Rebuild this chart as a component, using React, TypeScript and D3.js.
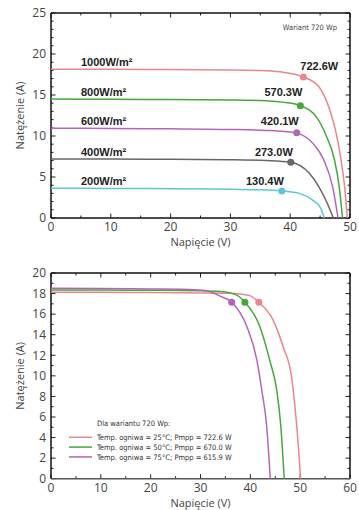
import React from "react";
import * as d3 from "d3";

type Pt = [number, number]; // [voltage V, current A]

// ---- top chart: I-V curves per irradiance (720 Wp variant) ----
const irradianceLabels = ["1000W/m²", "800W/m²", "600W/m²", "400W/m²", "200W/m²"];
const powerLabels = ["722.6W", "570.3W", "420.1W", "273.0W", "130.4W"];
const irradianceColors = ["#e8878d", "#46a83b", "#b565b9", "#676767", "#5cc6d7"];

const curve1000: Pt[] = [
  [0, 18.15], [10, 18.13], [20, 18.1], [30, 18.05], [36, 17.95], [39, 17.75],
  [42.2, 17.2], [44.8, 16.0], [46.6, 13.2], [47.7, 10.3], [48.5, 7.1],
  [49.1, 3.8], [49.55, 0],
];
const curve800: Pt[] = [
  [0, 14.5], [10, 14.48], [20, 14.45], [30, 14.4], [36, 14.3], [39, 14.1],
  [41.7, 13.7], [44.4, 12.3], [46.1, 9.9], [47.4, 7.1], [48.2, 3.8], [48.75, 0],
];
const curve600: Pt[] = [
  [0, 10.94], [10, 10.92], [20, 10.88], [30, 10.8], [36, 10.68], [39, 10.55],
  [41.1, 10.35], [43.8, 9.1], [45.6, 7.1], [47.1, 3.8], [48.0, 0],
];
const curve400: Pt[] = [
  [0, 7.2], [10, 7.19], [20, 7.15], [30, 7.1], [36, 7.0], [40.1, 6.8],
  [43.2, 5.45], [44.8, 3.8], [46.2, 1.8], [47.2, 0],
];
const curve200: Pt[] = [
  [0, 3.62], [10, 3.61], [20, 3.58], [30, 3.5], [35, 3.45], [38.6, 3.3],
  [41.5, 3.0], [43.7, 2.2], [45.1, 1.2], [45.7, 0],
];
const irradianceCurves = [curve1000, curve800, curve600, curve400, curve200];
const irradianceMppV = [42.2, 41.7, 41.1, 40.1, 38.6];
const irradianceMppI = [17.2, 13.7, 10.4, 6.8, 3.3];

// ---- bottom chart: I-V curves per cell temperature ----
const tempLabels = [
  "Temp. ogniwa = 25°C; Pmpp = 722.6 W",
  "Temp. ogniwa = 50°C; Pmpp = 670.0 W",
  "Temp. ogniwa = 75°C; Pmpp = 615.9 W",
];
const tempColors = ["#e8878d", "#46a83b", "#b565b9"];
const curve25: Pt[] = [
  [0, 18.13], [10, 18.12], [20, 18.1], [30, 18.06], [36, 18.02], [38, 17.96],
  [39.9, 17.8], [41.7, 17.16], [44.6, 15.4], [46.6, 12.8], [48.3, 9.8],
  [49.3, 5.2], [50.1, 0],
];
const curve50: Pt[] = [
  [0, 18.35], [10, 18.34], [20, 18.32], [30, 18.28], [34, 18.2], [37.3, 17.85],
  [38.9, 17.16], [41.9, 14.8], [43.9, 11.5], [45.3, 8.6], [46.1, 5.2], [46.8, 0],
];
const curve75: Pt[] = [
  [0, 18.52], [10, 18.5], [20, 18.45], [28, 18.4], [31, 18.3], [33.9, 17.75],
  [36.26, 17.16], [39.3, 14.8], [41.3, 11.55], [42.3, 8.6], [43.3, 5.0], [44.0, 0],
];
const tempCurves = [curve25, curve50, curve75];
const tempMppV = [41.7, 38.9, 36.26];
const tempMppI = [17.16, 17.16, 17.16];

// ---- ticks ----
const topXTicks = [0, 10, 20, 30, 40, 50];
const topYTicks = [0, 5, 10, 15, 20, 25];
const bottomXTicks = [0, 10, 20, 30, 40, 50, 60];
const bottomYTicks = [0, 2, 4, 6, 8, 10, 12, 14, 16, 18, 20];

const W = 359;
const H = 510;
const tickFont = "'Open Sans', 'DejaVu Sans', sans-serif";
const condFont = "'DejaVu Sans Condensed', 'DejaVu Sans', sans-serif";

interface Box {
  left: number;
  right: number;
  top: number;
  bottom: number;
}

interface FrameProps {
  box: Box;
  x: d3.ScaleLinear<number, number>;
  y: d3.ScaleLinear<number, number>;
  xTicks: number[];
  yTicks: number[];
  xMinor: number[];
  yMinor: number[];
  xAxisColor: string;
}

// box with inward ticks on all four sides, labels on left and bottom
const Frame = ({ box, x, y, xTicks, yTicks, xMinor, yMinor, xAxisColor }: FrameProps) => {
  const major = 4.5;
  const minor = 2.5;
  return (
    <g>
      {xMinor.map((v) => (
        <g key={"xm" + v} stroke="#222" strokeWidth={1}>
          <line x1={x(v)} x2={x(v)} y1={box.bottom} y2={box.bottom - minor} />
          <line x1={x(v)} x2={x(v)} y1={box.top} y2={box.top + minor} />
        </g>
      ))}
      {xTicks.map((v) => (
        <g key={"x" + v}>
          <line x1={x(v)} x2={x(v)} y1={box.bottom} y2={box.bottom - major} stroke="#222" />
          <line x1={x(v)} x2={x(v)} y1={box.top} y2={box.top + major} stroke="#222" />
          <text x={x(v)} y={box.bottom + 13} textAnchor="middle" fontFamily={tickFont}
            fontSize={12} fill="#444">{v}</text>
        </g>
      ))}
      {yMinor.map((v) => (
        <g key={"ym" + v} stroke="#222" strokeWidth={1}>
          <line x1={box.left} x2={box.left + minor} y1={y(v)} y2={y(v)} />
          <line x1={box.right} x2={box.right - minor} y1={y(v)} y2={y(v)} />
        </g>
      ))}
      {yTicks.map((v) => (
        <g key={"y" + v}>
          <line x1={box.left} x2={box.left + major} y1={y(v)} y2={y(v)} stroke="#222" />
          <line x1={box.right} x2={box.right - major} y1={y(v)} y2={y(v)} stroke="#222" />
          <text x={box.left - 5} y={y(v)} dy="0.36em" textAnchor="end" fontFamily={tickFont}
            fontSize={12} fill="#444">{v}</text>
        </g>
      ))}
      <line x1={box.left} x2={box.right} y1={box.top} y2={box.top} stroke="#111" strokeWidth={1.5} />
      <line x1={box.left} x2={box.left} y1={box.top} y2={box.bottom} stroke="#111" strokeWidth={1.5} />
      <line x1={box.right} x2={box.right} y1={box.top} y2={box.bottom} stroke="#111" strokeWidth={1.5} />
      <line x1={box.left} x2={box.right} y1={box.bottom} y2={box.bottom} stroke={xAxisColor} strokeWidth={1.5} />
      <text x={(box.left + box.right) / 2} y={box.bottom + 28} textAnchor="middle"
        fontFamily={tickFont} fontSize={11} fill="#444">Napięcie (V)</text>
      <text transform={`translate(24,${(box.top + box.bottom) / 2}) rotate(-90)`} textAnchor="middle"
        fontFamily={tickFont} fontSize={11} fill="#444">Natężenie (A)</text>
    </g>
  );
};

const App = () => {
  const topBox: Box = { left: 51, right: 350, top: 13, bottom: 218 };
  const botBox: Box = { left: 51, right: 350, top: 273, bottom: 478.7 };

  const xTop = d3.scaleLinear().domain([0, 50]).range([topBox.left, topBox.right]);
  const yTop = d3.scaleLinear().domain([0, 25]).range([topBox.bottom, topBox.top]);
  const xBot = d3.scaleLinear().domain([0, 60]).range([botBox.left, botBox.right]);
  const yBot = d3.scaleLinear().domain([0, 20]).range([botBox.bottom, botBox.top]);

  const lineTop = d3.line<Pt>().x((d) => xTop(d[0])).y((d) => yTop(d[1])).curve(d3.curveMonotoneX);
  const lineBot = d3.line<Pt>().x((d) => xBot(d[0])).y((d) => yBot(d[1])).curve(d3.curveMonotoneX);

  return (
    <svg width={W} height={H} style={{ position: "absolute", left: 0, top: 0, background: "#fff" }}>
      {/* top chart */}
      <Frame box={topBox} x={xTop} y={yTop} xTicks={topXTicks} yTicks={topYTicks}
        xMinor={d3.range(5, 50, 10)} yMinor={d3.range(1, 25).filter((v) => v % 5 !== 0)}
        xAxisColor="#111" />
      {irradianceCurves.map((c, i) => (
        <path key={"ic" + i} d={lineTop(c) || ""} fill="none" stroke={irradianceColors[i]} strokeWidth={1.5} />
      ))}
      {irradianceCurves.map((c, i) => (
        <g key={"il" + i}>
          <circle cx={xTop(irradianceMppV[i])} cy={yTop(irradianceMppI[i])} r={3.5} fill={irradianceColors[i]} />
          <text x={81} y={yTop(c[0][1]) - 3} fontFamily="'Liberation Sans', Arial, sans-serif"
            fontWeight="bold" fontSize={11} fill="#222">{irradianceLabels[i]}</text>
          <text
            x={xTop(irradianceMppV[i]) + (i === 0 ? -3 : 2)}
            y={yTop(c[0][1]) - 3 + (i === 0 ? 4 : 0)}
            textAnchor={i === 0 ? "start" : "end"}
            fontFamily="'Liberation Sans', Arial, sans-serif" fontWeight="bold" fontSize={11} fill="#222"
          >{powerLabels[i]}</text>
        </g>
      ))}
      <text x={337} y={30} textAnchor="end" fontFamily={condFont} fontSize={7.5} fill="#444">Wariant 720 Wp</text>

      {/* bottom chart */}
      <Frame box={botBox} x={xBot} y={yBot} xTicks={bottomXTicks} yTicks={bottomYTicks}
        xMinor={d3.range(5, 60, 10)} yMinor={d3.range(1, 20, 2)} xAxisColor="#555" />
      {tempCurves.map((c, i) => (
        <path key={"tc" + i} d={lineBot(c) || ""} fill="none" stroke={tempColors[i]} strokeWidth={1.5} />
      ))}
      {tempCurves.map((c, i) => (
        <circle key={"tm" + i} cx={xBot(tempMppV[i])} cy={yBot(tempMppI[i])} r={3.5} fill={tempColors[i]} />
      ))}
      <text x={97} y={426} fontFamily={condFont} fontSize={7.5} fill="#333">Dla wariantu 720 Wp:</text>
      {tempLabels.map((t, i) => (
        <g key={"lg" + i} transform={`translate(0,${437.3 + i * 9.8})`}>
          <line x1={69} x2={92} y1={0} y2={0} stroke={tempColors[i]} strokeWidth={1.5} />
          <text x={97} y={0} dy="0.35em" fontFamily={condFont} fontSize={7.5} fill="#333">{t}</text>
        </g>
      ))}
    </svg>
  );
};

export default App;
